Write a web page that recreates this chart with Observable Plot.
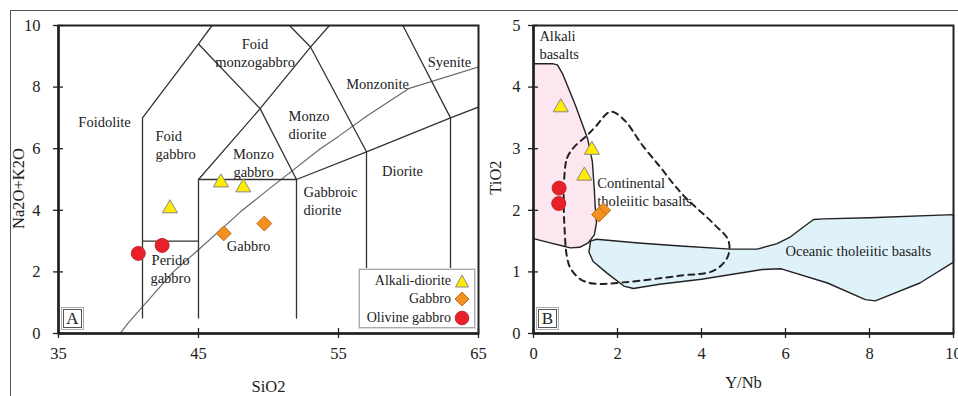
<!DOCTYPE html>
<html>
<head>
<meta charset="utf-8">
<script src="https://cdn.jsdelivr.net/npm/d3@7"></script>
<script src="https://cdn.jsdelivr.net/npm/@observablehq/plot@0.6"></script>
<style>
html,body{margin:0;padding:0;background:#fff;}
#wrap{position:relative;width:958px;height:396px;overflow:hidden;background:#fff;font-family:"Liberation Serif","Times New Roman",serif;color:#222;}
#outer{position:absolute;left:10px;top:10px;width:1000px;height:1000px;border-top:1.5px solid #555;border-left:1.5px solid #555;}
.panel{position:absolute;top:0;}
.panel svg{overflow:visible;}
.tag{position:absolute;width:17px;height:17px;border:1px solid #555;box-shadow:0 0 0 1px #fff,0 0 0 2px #aaa;font-size:17px;line-height:18px;text-align:center;background:#fff;}
.legend{position:absolute;left:359px;top:269px;width:114px;height:57px;border:1px solid #aaa;box-shadow:0 0 0 1px #ddd;background:#fff;font-size:14px;}
.legend .row{position:absolute;right:4px;display:flex;align-items:center;gap:3px;height:18px;}
</style>
</head>
<body>
<div id="wrap">
  <div id="outer"></div>
  <div class="panel" id="pa" style="left:0;"></div>
  <div class="panel" id="pb" style="left:480px;"></div>
  <div class="tag" style="left:63px;top:309px;">A</div>
  <div class="tag" style="left:538px;top:309px;">B</div>
  <div class="legend">
    <div class="row" style="top:2px;"><span>Alkali-diorite</span><svg width="16" height="16"><polygon points="8,2 14.5,14 1.5,14" fill="#ffec00" stroke="#888" stroke-width="1"/></svg></div>
    <div class="row" style="top:20px;"><span>Gabbro</span><svg width="16" height="16"><polygon points="8,1 15,8 8,15 1,8" fill="#f39020" stroke="#b8701a" stroke-width="1"/></svg></div>
    <div class="row" style="top:39px;"><span>Olivine gabbro</span><svg width="16" height="16"><circle cx="8" cy="8" r="6.8" fill="#e8202a" stroke="#c0282d" stroke-width="1"/></svg></div>
  </div>
</div>
<script>
// ---------- Panel A: SiO2 vs Na2O+K2O ----------
const sio2Ticks = [35, 45, 55, 65];
const alkTicks = [0, 2, 4, 6, 8, 10];

const alkaliDioriteA = [
  {sio2: 46.6, alk: 4.9},
  {sio2: 48.2, alk: 4.74},
  {sio2: 42.96, alk: 4.06}
];
const gabbroA = [
  {sio2: 46.8, alk: 3.25},
  {sio2: 49.7, alk: 3.57}
];
const olivineGabbroA = [
  {sio2: 40.7, alk: 2.6},
  {sio2: 42.4, alk: 2.86}
];

// field boundaries (SiO2, Na2O+K2O)
const fieldBoundaries = [
  [[41, 0.5], [41, 7], [45, 9.4], [45.97, 10]],
  [[45, 9.4], [49.4, 7.3], [52, 5]],
  [[41, 3], [45, 3]],
  [[45, 0.5], [45, 5], [52, 5], [52, 0.5]],
  [[45, 5], [49.4, 7.3], [53, 9.3], [54.35, 10]],
  [[51.5, 10], [53, 9.3], [57, 5.9], [57, 0.5]],
  [[52, 5], [57, 5.9], [63, 7], [65, 7.35]],
  [[59.6, 10], [63, 7], [63, 0.5]]
];
// alkaline / subalkaline divide
const alkalineDivide = [
  [39.4, 0], [40, 0.35], [43.2, 2], [45, 2.72], [48, 3.95], [50, 4.68],
  [53.7, 6], [55, 6.4], [57, 7.05], [60, 7.95], [65, 8.65]
];

const fieldLabelsCentered = [
  {t: "Foidolite", x: 38.29, y: 6.88},
  {t: "Foid\nmonzogabbro", x: 49.04, y: 9.14},
  {t: "Monzonite", x: 57.79, y: 8.12},
  {t: "Syenite", x: 62.93, y: 8.83},
  {t: "Monzo\ngabbro", x: 48.93, y: 5.57},
  {t: "Diorite", x: 59.57, y: 5.29},
  {t: "Gabbro", x: 48.57, y: 2.86},
  {t: "Perido\ngabbro", x: 43.0, y: 2.11}
];
const fieldLabelsLeft = [
  {t: "Foid\ngabbro", x: 41.93, y: 6.14},
  {t: "Monzo\ndiorite", x: 51.43, y: 6.80},
  {t: "Gabbroic\ndiorite", x: 52.5, y: 4.32}
];

// ---------- Panel B: Y/Nb vs TiO2 ----------
const yNbTicks = [0, 2, 4, 6, 8, 10];
const tio2Ticks = [0, 1, 2, 3, 4, 5];

const alkaliDioriteB = [
  {ynb: 0.65, tio2: 3.67},
  {ynb: 1.39, tio2: 2.98},
  {ynb: 1.21, tio2: 2.56}
];
const gabbroB = [
  {ynb: 1.66, tio2: 2.0},
  {ynb: 1.56, tio2: 1.93}
];
const olivineGabbroB = [
  {ynb: 0.61, tio2: 2.36},
  {ynb: 0.6, tio2: 2.11}
];

const alkaliBasaltField = [
  [0, 4.38], [0.45, 4.38], [0.57, 4.36], [0.69, 4.22], [1.0, 3.7], [1.29, 3.16],
  [1.4, 2.8], [1.45, 2.32], [1.47, 2.05], [1.5, 1.8], [1.45, 1.6], [1.3, 1.47],
  [1.1, 1.4], [0.88, 1.39], [0.7, 1.42], [0.35, 1.48], [0, 1.54]
];
const oceanicField = [
  [1.36, 1.5], [1.5, 1.53], [2.5, 1.47], [3.5, 1.42], [4.69, 1.37], [5.33, 1.37],
  [5.8, 1.46], [6.12, 1.57], [6.45, 1.74], [6.67, 1.85], [6.9, 1.86], [8, 1.88],
  [10, 1.93], [10, 1.16], [9.2, 0.82], [8.14, 0.53], [7.9, 0.55], [7.0, 0.82],
  [5.9, 1.05], [5.45, 1.04], [4.0, 0.88], [3.0, 0.8], [2.38, 0.73], [2.15, 0.77],
  [1.75, 0.98], [1.42, 1.17], [1.32, 1.32]
];
const continentalField = [
  [0.74, 2.6], [0.8, 2.85], [0.97, 3.03], [1.25, 3.2], [1.48, 3.36], [1.83, 3.6],
  [2.14, 3.48], [2.6, 3.05], [3.02, 2.7], [3.33, 2.43], [3.6, 2.22], [4.29, 1.78],
  [4.64, 1.51], [4.62, 1.24], [4.29, 1.02], [3.5, 0.94], [2.14, 0.83], [1.43, 0.81],
  [1.12, 0.88], [0.88, 1.06], [0.79, 1.27], [0.74, 1.7], [0.72, 2.1]
];

const fieldLabelsB = [
  {t: "Alkali\nbasalts", x: 0.14, y: 4.69},
  {t: "Continental\ntholeiitic basalts", x: 1.52, y: 2.31},
  {t: "Oceanic tholeiitic basalts", x: 6.0, y: 1.35}
];

// ---------- styles ----------
const ink = "#222";
const serif = "'Liberation Serif', 'Times New Roman', serif";
const triFill = "#ffec00", triStroke = "#888";
const diaFill = "#f39020", diaStroke = "#b8701a";
const cirFill = "#e8202a", cirStroke = "#c0282d";
const tickFont = 16.5, labelFont = 14.5;
const plain = d => String(d);

const segRows = fieldBoundaries.flatMap((s, i) => s.map(p => ({x: p[0], y: p[1], id: i})));
const toXY = arr => arr.map(p => ({x: p[0], y: p[1]}));

const plotA = Plot.plot({
  width: 480, height: 396,
  marginLeft: 58, marginRight: 2, marginTop: 25, marginBottom: 63,
  x: {domain: [35, 65]},
  y: {domain: [0, 10]},
  style: {fontFamily: serif, fontSize: labelFont + "px", background: "transparent", color: ink, overflow: "visible"},
  marks: [
    Plot.line(toXY(alkalineDivide), {x: "x", y: "y", stroke: "#6a6a6a", strokeWidth: 1.2, clip: true}),
    Plot.line(segRows, {x: "x", y: "y", z: "id", stroke: "#333", strokeWidth: 1.3, clip: true}),
    Plot.text(fieldLabelsCentered, {x: "x", y: "y", text: "t", fill: ink, lineHeight: 1.25, fontSize: labelFont}),
    Plot.text(fieldLabelsLeft, {x: "x", y: "y", text: "t", fill: ink, lineHeight: 1.25, fontSize: labelFont, textAnchor: "start"}),
    Plot.dot(olivineGabbroA, {x: "sio2", y: "alk", r: 7, fill: cirFill, stroke: cirStroke, strokeWidth: 1}),
    Plot.dot(gabbroA, {x: "sio2", y: "alk", symbol: "diamond2", r: 6.7, fill: diaFill, stroke: diaStroke, strokeWidth: 1}),
    Plot.dot(alkaliDioriteA, {x: "sio2", y: "alk", symbol: "triangle", r: 5.6, fill: triFill, stroke: triStroke, strokeWidth: 1}),
    Plot.frame({stroke: ink, strokeWidth: 2}),
    Plot.ruleX([35], {stroke: ink, strokeWidth: 2.5}),
    Plot.ruleY([0], {stroke: ink, strokeWidth: 2.5}),
    Plot.axisX(sio2Ticks, {tickSize: 0, tickPadding: 14, fontSize: tickFont, fontFamily: serif, label: null, fill: ink, tickFormat: plain}),
    Plot.axisX(sio2Ticks, {tickSize: 10, dy: -5, tickFormat: () => "", label: null, stroke: ink, strokeWidth: 1.3}),
    Plot.axisY(alkTicks, {tickSize: 0, tickPadding: 18, fontSize: tickFont, fontFamily: serif, label: null, fill: ink, tickFormat: plain}),
    Plot.axisY(alkTicks, {tickSize: 10, dx: 5, tickFormat: () => "", label: null, stroke: ink, strokeWidth: 1.3}),
    Plot.text(["SiO2"], {frameAnchor: "bottom", textAnchor: "middle", lineAnchor: "middle", dy: 53, fontSize: tickFont, fill: ink}),
    Plot.text(["Na2O+K2O"], {frameAnchor: "left", textAnchor: "middle", lineAnchor: "middle", dx: -40, dy: 9, rotate: -90, fontSize: tickFont, fill: ink})
  ]
});
document.getElementById("pa").appendChild(plotA);

const plotB = Plot.plot({
  width: 478, height: 396,
  marginLeft: 53, marginRight: 5, marginTop: 25, marginBottom: 63,
  x: {domain: [0, 10]},
  y: {domain: [0, 5]},
  style: {fontFamily: serif, fontSize: labelFont + "px", background: "transparent", color: ink, overflow: "visible"},
  marks: [
    Plot.line(toXY(alkaliBasaltField), {x: "x", y: "y", curve: "linear-closed", fill: "#fce6ef", stroke: "none"}),
    Plot.line(toXY(alkaliBasaltField), {x: "x", y: "y", curve: "linear", stroke: "#222", strokeWidth: 1.4}),
    Plot.line(toXY(oceanicField), {x: "x", y: "y", curve: "linear-closed", fill: "#dff1f9", stroke: "#222", strokeWidth: 1.4}),
    Plot.line(toXY(continentalField), {x: "x", y: "y", curve: "catmull-rom-closed", stroke: "#222", strokeWidth: 2, strokeDasharray: "6,5"}),
    Plot.text(fieldLabelsB, {x: "x", y: "y", text: "t", fill: ink, lineHeight: 1.25, fontSize: labelFont, textAnchor: "start"}),
    Plot.dot(olivineGabbroB, {x: "ynb", y: "tio2", r: 7, fill: cirFill, stroke: cirStroke, strokeWidth: 1}),
    Plot.dot(gabbroB, {x: "ynb", y: "tio2", symbol: "diamond2", r: 6.7, fill: diaFill, stroke: diaStroke, strokeWidth: 1}),
    Plot.dot(alkaliDioriteB, {x: "ynb", y: "tio2", symbol: "triangle", r: 5.6, fill: triFill, stroke: triStroke, strokeWidth: 1}),
    Plot.frame({stroke: ink, strokeWidth: 2}),
    Plot.ruleX([0], {stroke: ink, strokeWidth: 2.5}),
    Plot.ruleY([0], {stroke: ink, strokeWidth: 2.5}),
    Plot.axisX(yNbTicks, {tickSize: 0, tickPadding: 14, fontSize: tickFont, fontFamily: serif, label: null, fill: ink, tickFormat: plain}),
    Plot.axisX(yNbTicks, {tickSize: 10, dy: -5, tickFormat: () => "", label: null, stroke: ink, strokeWidth: 1.3}),
    Plot.axisY(tio2Ticks, {tickSize: 0, tickPadding: 13, fontSize: tickFont, fontFamily: serif, label: null, fill: ink, tickFormat: plain}),
    Plot.axisY(tio2Ticks, {tickSize: 10, dx: 5, tickFormat: () => "", label: null, stroke: ink, strokeWidth: 1.3}),
    Plot.text(["Y/Nb"], {frameAnchor: "bottom", textAnchor: "middle", lineAnchor: "middle", dy: 49, fontSize: tickFont, fill: ink}),
    Plot.text(["TiO2"], {frameAnchor: "left", textAnchor: "middle", lineAnchor: "middle", dx: -38, dy: -2, rotate: -90, fontSize: tickFont, fill: ink})
  ]
});
document.getElementById("pb").appendChild(plotB);
</script>
</body>
</html>
